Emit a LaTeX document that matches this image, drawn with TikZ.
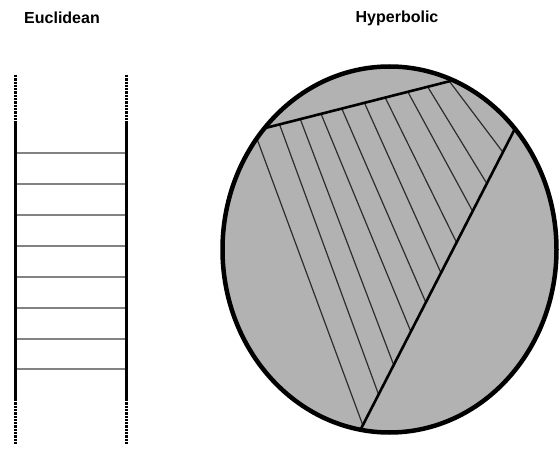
\documentclass[tikz,border=0pt]{standalone}
\usepackage{fontspec}
\newfontfamily\labelfont{Liberation Sans}
\usepackage{tikz}
\usetikzlibrary{calc}
\definecolor{diskgray}{RGB}{178,178,178}
\definecolor{runggray}{RGB}{130,130,130}
\definecolor{hatchgray}{RGB}{45,45,45}

\begin{document}
\begin{tikzpicture}[x=1pt, y=1pt,
  rail/.style={line width=3pt, black},
  railgap/.style={line width=3pt, black, dash pattern=on 2.3pt off 1pt},
  rung/.style={line width=1.6pt, runggray},
  geodesic/.style={line width=2.6pt, black},
  hatch/.style={line width=1.2pt, hatchgray},
  title/.style={font=\labelfont\bfseries\fontsize{16}{19}\selectfont}]
  \useasboundingbox (0,0) rectangle (560,448);

  % titles
  \node[title] (euclid) at (62,430) {Euclidean};
  \node[title] (hyper) at (397,430) {Hyperbolic};

  % Euclidean strip
  \foreach \x in {15,126} {
    \draw[railgap] (\x,373) -- (\x,326);
    \draw[rail] (\x,326) -- (\x,49);
    \draw[railgap] (\x,49) -- (\x,4);
  }
  \foreach \y in {295,264,233,202,171,140,109,79} {
    \draw[rung] (16.5,\y) -- (124.5,\y);
  }

  % hyperbolic disk
  \coordinate (O) at (389.5,198.5);
  \fill[diskgray] (O) ellipse [x radius=167, y radius=183];

  \coordinate (A) at ($(O)+(138.5:167 and 183)$);
  \coordinate (B) at ($(O)+(67.6:167 and 183)$);
  \coordinate (C) at ($(O)+(41.3:167 and 183)$);
  \coordinate (D) at ($(O)+(260:167 and 183)$);
  \coordinate (L) at ($(O)+(142.6:167 and 183)$);

  % parallels between the two geodesics
  \draw[hatch] (L) -- ($(C)!0.985!(D)$);
  \foreach \s/\e in {0.08/0.883, 0.19/0.785, 0.30/0.674, 0.41/0.577, 0.53/0.479,
                     0.64/0.378, 0.76/0.274, 0.865/0.182, 0.98/0.078} {
    \draw[hatch] ($(A)!\s!(B)$) -- ($(C)!\e!(D)$);
  }

  % geodesics
  \draw[geodesic] (A) -- (B);
  \draw[geodesic] (C) -- (D);

  % boundary circle
  \draw[line width=4.5pt] (O) ellipse [x radius=167, y radius=183];
\end{tikzpicture}
\end{document}
